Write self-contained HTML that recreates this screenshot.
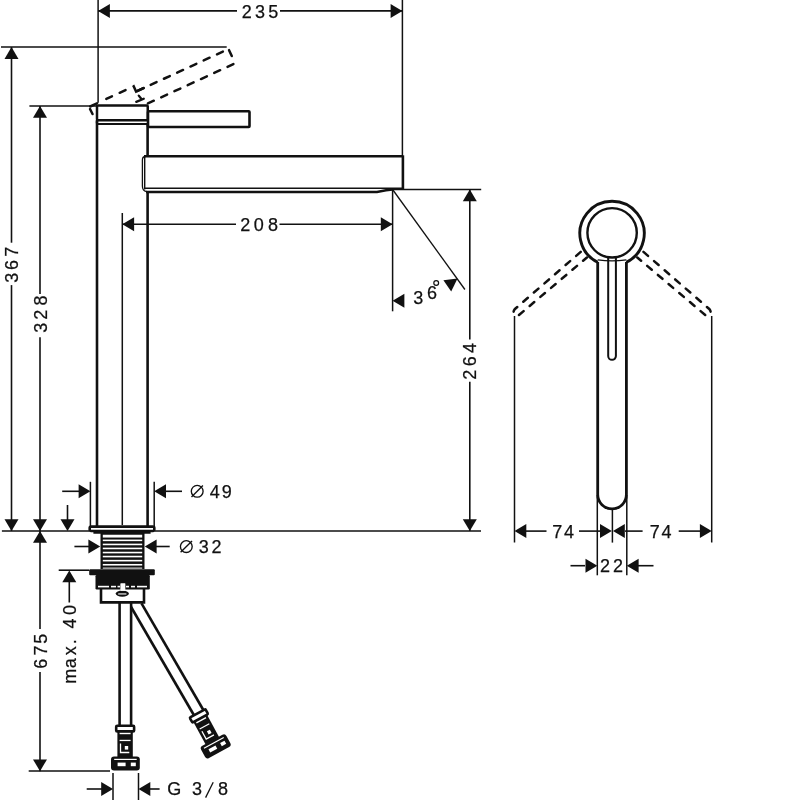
<!DOCTYPE html>
<html><head><meta charset="utf-8"><style>
html,body{margin:0;padding:0;background:#fff;}
svg{display:block;will-change:transform;}
text{font-family:"Liberation Sans",sans-serif;fill:#111111;stroke:#111111;stroke-width:0.25px;}
</style></head><body>
<svg width="800" height="800" viewBox="0 0 800 800" stroke="#111111" fill="none">
<rect x="0" y="0" width="800" height="800" fill="#fff" stroke="none"/>
<path d="M138.75,95.6 L141.25,98.75 M136.25,101.9 L143.75,98.75" stroke-width="2.3" stroke-linecap="round" fill="none"/>
<path d="M89.05,107.03 L95.95,120.92" stroke-width="2.5" fill="none" stroke-linecap="round" stroke-dasharray="5.6 100" stroke-dashoffset="-2.2"/>
<path d="M89.05,107.03 L133.65,86.22 L136.10,91.53 L147.23,86.42" stroke-width="2.5" fill="none" stroke-linecap="round" stroke-dasharray="7.5 10.3 6.2 8.5 6.5 8.8 14.5 1000" stroke-dashoffset="-1.25"/>
<path d="M235.12,63.32 L142.68,105.84" stroke-width="2.5" fill="none" stroke-linecap="round" stroke-dasharray="6.5 8.1" stroke-dashoffset="-1.9"/>
<path d="M228.54,49.02 L235.12,63.32" stroke-width="2.5" fill="none" stroke-linecap="round" stroke-dasharray="6.5 30" stroke-dashoffset="-1.25"/>
<path d="M136.10,91.53 L228.54,49.02" stroke-width="2.5" fill="none" stroke-linecap="round" stroke-dasharray="6.5 8.1" stroke-dashoffset="-16.0"/>
<line x1="98.1" y1="0" x2="98.1" y2="102.8" stroke-width="1.5" />
<line x1="402.4" y1="0" x2="402.4" y2="156" stroke-width="1.5" />
<line x1="98.1" y1="10.9" x2="237" y2="10.9" stroke-width="1.6" />
<line x1="280" y1="10.9" x2="402.4" y2="10.9" stroke-width="1.6" />
<polygon points="98.10,10.90 109.90,3.90 109.90,17.90" fill="#111111" stroke="none"/>
<polygon points="402.40,10.90 390.60,3.90 390.60,17.90" fill="#111111" stroke="none"/>
<text x="241.69 255.11 268.28" y="17.7" font-size="18">235</text>
<line x1="1" y1="47.1" x2="226.7" y2="47.1" stroke-width="1.5" />
<line x1="11.5" y1="47.1" x2="11.5" y2="242.7" stroke-width="1.6" />
<line x1="11.5" y1="285.1" x2="11.5" y2="531" stroke-width="1.6" />
<polygon points="11.50,47.10 4.50,58.90 18.50,58.90" fill="#111111" stroke="none"/>
<polygon points="11.50,531.00 4.50,519.20 18.50,519.20" fill="#111111" stroke="none"/>
<text x="-282.79 -269.91 -256.82" y="0" font-size="18" transform="translate(18.0 0) rotate(-90) scale(1.0 1)">367</text>
<line x1="29.4" y1="105.9" x2="97" y2="105.9" stroke-width="1.5" />
<line x1="40" y1="105.9" x2="40" y2="294.1" stroke-width="1.6" />
<line x1="40" y1="337.3" x2="40" y2="531" stroke-width="1.6" />
<polygon points="40.00,105.90 33.00,117.70 47.00,117.70" fill="#111111" stroke="none"/>
<polygon points="40.00,531.00 33.00,519.20 47.00,519.20" fill="#111111" stroke="none"/>
<text x="-332.69 -319.81 -305.38" y="0" font-size="18" transform="translate(46.6 0) rotate(-90) scale(1.0 1)">328</text>
<line x1="1.9" y1="531" x2="89.5" y2="531" stroke-width="1.6" />
<line x1="154.5" y1="531" x2="481" y2="531" stroke-width="1.6" />
<line x1="40" y1="531" x2="40" y2="629.1" stroke-width="1.6" />
<line x1="40" y1="671.9" x2="40" y2="771.2" stroke-width="1.6" />
<polygon points="40.00,531.00 33.00,542.80 47.00,542.80" fill="#111111" stroke="none"/>
<polygon points="40.00,771.20 33.00,759.40 47.00,759.40" fill="#111111" stroke="none"/>
<text x="-668.66 -655.52 -643.72" y="0" font-size="18" transform="translate(46.6 0) rotate(-90) scale(1.0 1)">675</text>
<line x1="28.7" y1="771" x2="110" y2="771" stroke-width="1.6" />
<line x1="90.4" y1="481.8" x2="90.4" y2="527" stroke-width="1.5" />
<line x1="154.2" y1="481.8" x2="154.2" y2="527" stroke-width="1.5" />
<line x1="62.2" y1="491.3" x2="80" y2="491.3" stroke-width="1.6" />
<polygon points="90.40,491.30 78.60,484.30 78.60,498.30" fill="#111111" stroke="none"/>
<line x1="165" y1="491.3" x2="182" y2="491.3" stroke-width="1.6" />
<polygon points="154.20,491.30 166.00,484.30 166.00,498.30" fill="#111111" stroke="none"/>
<circle cx="197.2" cy="491.3" r="5.9" stroke-width="1.35" fill="none"/>
<line x1="191.49999999999997" y1="497.0" x2="202.9" y2="485.6" stroke-width="1.35" />
<text x="209.79 221.66" y="497.5" font-size="18">49</text>
<line x1="67.5" y1="505" x2="67.5" y2="520" stroke-width="1.6" />
<polygon points="67.50,531.00 60.50,519.20 74.50,519.20" fill="#111111" stroke="none"/>
<line x1="74.4" y1="546.5" x2="89" y2="546.5" stroke-width="1.6" />
<polygon points="100.20,546.50 88.40,539.50 88.40,553.50" fill="#111111" stroke="none"/>
<line x1="156" y1="546.5" x2="169.7" y2="546.5" stroke-width="1.6" />
<polygon points="144.80,546.50 156.60,539.50 156.60,553.50" fill="#111111" stroke="none"/>
<circle cx="186.3" cy="546.6" r="5.9" stroke-width="1.35" fill="none"/>
<line x1="180.6" y1="552.3" x2="192.00000000000003" y2="540.9000000000001" stroke-width="1.35" />
<text x="198.81 211.49" y="552.6" font-size="18">32</text>
<line x1="58.7" y1="570.2" x2="89" y2="570.2" stroke-width="1.6" />
<line x1="69.3" y1="582" x2="69.3" y2="602.5" stroke-width="1.6" />
<polygon points="69.30,570.40 62.30,582.20 76.30,582.20" fill="#111111" stroke="none"/>
<text x="-683.70 -668.26 -655.20 -644.14 -628.41 -615.10" y="0" font-size="18" transform="translate(76.2 0) rotate(-90) scale(1.0 1)">max.40</text>
<line x1="113" y1="773" x2="113" y2="800" stroke-width="1.5" />
<line x1="138.5" y1="773" x2="138.5" y2="800" stroke-width="1.5" />
<line x1="86.7" y1="789" x2="102" y2="789" stroke-width="1.6" />
<polygon points="113.00,789.00 101.20,782.00 101.20,796.00" fill="#111111" stroke="none"/>
<line x1="150" y1="789" x2="159.6" y2="789" stroke-width="1.6" />
<polygon points="138.50,789.00 150.30,782.00 150.30,796.00" fill="#111111" stroke="none"/>
<text x="167.19 192.11 218.12" y="795.2" font-size="18">G38</text>
<line x1="205.6" y1="797.6" x2="213.2" y2="782.3" stroke-width="1.3" />
<line x1="122.3" y1="213" x2="122.3" y2="525" stroke-width="1.5" />
<line x1="392.6" y1="190" x2="392.6" y2="311.3" stroke-width="1.5" />
<line x1="122.3" y1="224.3" x2="236" y2="224.3" stroke-width="1.6" />
<line x1="279.5" y1="224.3" x2="392.6" y2="224.3" stroke-width="1.6" />
<polygon points="122.30,224.30 134.10,217.30 134.10,231.30" fill="#111111" stroke="none"/>
<polygon points="392.60,224.30 380.80,217.30 380.80,231.30" fill="#111111" stroke="none"/>
<text x="240.19 253.70 267.92" y="230.9" font-size="18">208</text>
<line x1="392.6" y1="189.5" x2="464.9" y2="289.5" stroke-width="1.3" />
<polygon points="392.60,300.80 404.40,293.80 404.40,307.80" fill="#111111" stroke="none"/>
<polygon points="443.40,280.20 457.50,278.60 451.20,291.40" fill="#111111" stroke="none"/>
<text x="413.31" y="303.7" font-size="18">3</text>
<text x="427.09" y="298.9" font-size="18">6</text>
<circle cx="436.2" cy="283" r="2.4" stroke-width="1.2" fill="none"/>
<line x1="392" y1="189.4" x2="481.2" y2="189.4" stroke-width="1.5" />
<line x1="469.8" y1="189.4" x2="469.8" y2="339.4" stroke-width="1.6" />
<line x1="469.8" y1="381.8" x2="469.8" y2="531" stroke-width="1.6" />
<polygon points="469.80,189.40 462.80,201.20 476.80,201.20" fill="#111111" stroke="none"/>
<polygon points="469.80,531.00 462.80,519.20 476.80,519.20" fill="#111111" stroke="none"/>
<text x="-379.66 -366.16 -352.91" y="0" font-size="18" transform="translate(476.0 0) rotate(-90) scale(1.0 1)">264</text>
<rect x="97" y="105.4" width="50.75" height="14.85" rx="1" stroke-width="2.5" fill="#fff" />
<rect x="96.8" y="120.4" width="52.2" height="3.6" rx="1.8" stroke-width="2.1" fill="#fff" />
<line x1="97" y1="120" x2="97" y2="526" stroke-width="2.6" />
<line x1="147.6" y1="123.8" x2="147.6" y2="156.5" stroke-width="2.6" />
<line x1="147.6" y1="191" x2="147.6" y2="526" stroke-width="2.6" />
<rect x="148" y="111.3" width="101.5" height="15.7" rx="0.8" stroke-width="2.6" fill="#fff" />
<line x1="144" y1="156.3" x2="402.9" y2="156.3" stroke-width="2.6" />
<line x1="402.9" y1="155.3" x2="402.9" y2="189.4" stroke-width="2.6" />
<line x1="144" y1="188.2" x2="402.9" y2="188.2" stroke-width="1.5" />
<path d="M146,192 L377,192 L386,190.3 L392.6,189.5" stroke-width="2.6" fill="none" />
<path d="M145.5,156.5 Q142.4,156.5 142.4,160 L142.4,186 Q142.4,191 146.5,191.5" stroke-width="1.3" fill="none" />
<line x1="144.7" y1="157" x2="144.7" y2="189.5" stroke-width="1.4" />
<rect x="89.7" y="526.6" width="64.6" height="4.4" rx="1.5" stroke-width="2.6" fill="#fff" />
<line x1="93.4" y1="532.8" x2="150.6" y2="532.8" stroke-width="2.0" />
<rect x="100.5" y="533" width="44" height="36" rx="0" stroke-width="0" fill="#111111" />
<rect x="102.8" y="567.6" width="39.4" height="1.0" rx="0" stroke-width="0" fill="#fff" />
<rect x="102.8" y="534.75" width="39.4" height="2.8" rx="0" stroke-width="0" fill="#fff" />
<rect x="102.8" y="539.55" width="39.4" height="1.6" rx="0" stroke-width="0" fill="#fff" />
<rect x="102.8" y="543.65" width="39.4" height="1.6" rx="0" stroke-width="0" fill="#fff" />
<rect x="102.8" y="547.65" width="39.4" height="1.6" rx="0" stroke-width="0" fill="#fff" />
<rect x="102.8" y="551.75" width="39.4" height="1.6" rx="0" stroke-width="0" fill="#fff" />
<rect x="102.8" y="555.75" width="39.4" height="1.6" rx="0" stroke-width="0" fill="#fff" />
<rect x="102.8" y="559.85" width="39.4" height="1.6" rx="0" stroke-width="0" fill="#fff" />
<rect x="102.8" y="563.95" width="39.4" height="1.6" rx="0" stroke-width="0" fill="#fff" />
<rect x="89.2" y="569.2" width="65.6" height="6.1" rx="1" stroke-width="0" fill="#111111" />
<rect x="95.5" y="575" width="54.3" height="14.5" rx="1.2" stroke-width="0" fill="#111111" />
<rect x="98" y="585.8" width="11" height="1.6" rx="0" stroke-width="0" fill="#fff" />
<rect x="111" y="585.8" width="5" height="1.6" rx="0" stroke-width="0" fill="#fff" />
<rect x="117.5" y="585.8" width="2.5" height="1.6" rx="0" stroke-width="0" fill="#fff" />
<rect x="126" y="585.8" width="3" height="1.6" rx="0" stroke-width="0" fill="#fff" />
<rect x="131" y="585.8" width="4" height="1.6" rx="0" stroke-width="0" fill="#fff" />
<rect x="137" y="585.8" width="10" height="1.6" rx="0" stroke-width="0" fill="#fff" />
<rect x="120.6" y="583.5" width="4.6" height="7.4" rx="0" stroke-width="0" fill="#fff" />
<path d="M101,589 L101,602.4 L144,602.4 L144,589" stroke-width="2.6" fill="none" />
<ellipse cx="122.3" cy="593.6" rx="6.6" ry="3.1" fill="#111111" stroke="none"/>
<rect x="118.2" y="593.4" width="8.2" height="1.1" rx="0" stroke-width="0" fill="#fff" />
<rect x="120.6" y="583.5" width="4.6" height="7.4" rx="0" stroke-width="0" fill="#fff" />
<line x1="119.6" y1="602" x2="119.6" y2="726" stroke-width="2.6" />
<line x1="131.1" y1="602" x2="131.1" y2="726" stroke-width="2.6" />

<rect x="116.2" y="725.8" width="17.9" height="5.6" rx="1" stroke-width="2.6" fill="#fff"/>
<rect x="117.4" y="731" width="15.4" height="26" fill="#111111" stroke="none"/>
<rect x="119.6" y="732.8" width="11" height="1.4" fill="#fff" stroke="none"/>
<rect x="119.6" y="739.8" width="11" height="1.3" fill="#fff" stroke="none"/>
<path d="M120.5,743.5 L120.5,752.5 L129.3,752.5" stroke="#fff" stroke-width="1.3" fill="none"/>
<rect x="124.8" y="746" width="3.4" height="3.6" fill="#fff" stroke="none"/>
<rect x="111" y="756.4" width="28.8" height="14" rx="3" fill="#111111" stroke="none"/>
<rect x="114.2" y="758.8" width="22.5" height="1.2" fill="#fff" stroke="none"/>
<rect x="117.6" y="762.6" width="8" height="3.6" fill="#fff" stroke="none"/>
<rect x="130.8" y="762.6" width="5" height="3.6" fill="#fff" stroke="none"/>

<path d="M131.1,607 L195,717" stroke-width="2.6" fill="none" />
<path d="M141.5,603.3 L204.5,712" stroke-width="2.6" fill="none" />
<g transform="translate(197.6,713.4) rotate(-28.5) translate(-125.2,-725.8)">
<rect x="116.2" y="725.8" width="17.9" height="5.6" rx="1" stroke-width="2.6" fill="#fff"/>
<rect x="117.4" y="731" width="15.4" height="26" fill="#111111" stroke="none"/>
<rect x="119.6" y="732.8" width="11" height="1.4" fill="#fff" stroke="none"/>
<rect x="119.6" y="739.8" width="11" height="1.3" fill="#fff" stroke="none"/>
<path d="M120.5,743.5 L120.5,752.5 L129.3,752.5" stroke="#fff" stroke-width="1.3" fill="none"/>
<rect x="124.8" y="746" width="3.4" height="3.6" fill="#fff" stroke="none"/>
<rect x="111" y="756.4" width="28.8" height="14" rx="3" fill="#111111" stroke="none"/>
<rect x="114.2" y="758.8" width="22.5" height="1.2" fill="#fff" stroke="none"/>
<rect x="117.6" y="762.6" width="8" height="3.6" fill="#fff" stroke="none"/>
<rect x="130.8" y="762.6" width="5" height="3.6" fill="#fff" stroke="none"/>
</g>
<path d="M597.7,262.3 A32.2,32.2 0 1 1 626.4,262.3" stroke-width="2.9" fill="none"/>
<circle cx="612.1" cy="232.8" r="24.7" stroke-width="2.4" fill="none"/>
<path d="M597.7,259.8 Q612,262 626.4,259.8" stroke-width="1.2" fill="none" />
<path d="M597.7,262 L597.7,494.5 A14.35,14.35 0 0 0 626.4,494.5 L626.4,262" stroke-width="2.8" fill="none" />
<path d="M608.2,257.5 L608.2,356 A3.85,3.85 0 0 0 615.9,356 L615.9,257.5" stroke-width="2.0" fill="none" />
<path d="M580.7,251.9 L514.7,309.2 Q512.2,312.5 515.5,315.3 Q517.0,316.6 519.0,315 L586.9,257.5" stroke-width="2.5" fill="none" stroke-dasharray="6 8" stroke-linecap="round"/>
<path d="M643.5,251.9 L709.5,309.2 Q712.0,312.5 708.7,315.3 Q707.2,316.6 705.2,315 L637.3000000000001,257.5" stroke-width="2.5" fill="none" stroke-dasharray="6 8" stroke-linecap="round"/>
<line x1="514.5" y1="316" x2="514.5" y2="542.5" stroke-width="1.5" />
<line x1="711.7" y1="316" x2="711.7" y2="542.5" stroke-width="1.5" />
<line x1="597.3" y1="495" x2="597.3" y2="575.3" stroke-width="1.5" />
<line x1="626.8" y1="495" x2="626.8" y2="575.3" stroke-width="1.5" />
<line x1="612.4" y1="508.5" x2="612.4" y2="542.6" stroke-width="1.5" />
<polygon points="514.50,531.10 526.30,524.10 526.30,538.10" fill="#111111" stroke="none"/>
<line x1="526" y1="531.1" x2="546.5" y2="531.1" stroke-width="1.6" />
<text x="552.18 563.99" y="538.0" font-size="18">74</text>
<line x1="579" y1="531.1" x2="600" y2="531.1" stroke-width="1.6" />
<polygon points="611.80,531.10 600.00,524.10 600.00,538.10" fill="#111111" stroke="none"/>
<polygon points="613.00,531.10 624.80,524.10 624.80,538.10" fill="#111111" stroke="none"/>
<line x1="625" y1="531.1" x2="642.6" y2="531.1" stroke-width="1.6" />
<text x="649.68 661.49" y="538.0" font-size="18">74</text>
<line x1="678.7" y1="531.1" x2="700" y2="531.1" stroke-width="1.6" />
<polygon points="711.70,531.10 699.90,524.10 699.90,538.10" fill="#111111" stroke="none"/>
<line x1="570.5" y1="565.7" x2="585" y2="565.7" stroke-width="1.6" />
<polygon points="597.30,565.70 585.50,558.70 585.50,572.70" fill="#111111" stroke="none"/>
<polygon points="626.80,565.70 638.60,558.70 638.60,572.70" fill="#111111" stroke="none"/>
<line x1="638" y1="565.7" x2="653.5" y2="565.7" stroke-width="1.6" />
<text x="600.09 613.09" y="572.4" font-size="18">22</text>
</svg></body></html>
